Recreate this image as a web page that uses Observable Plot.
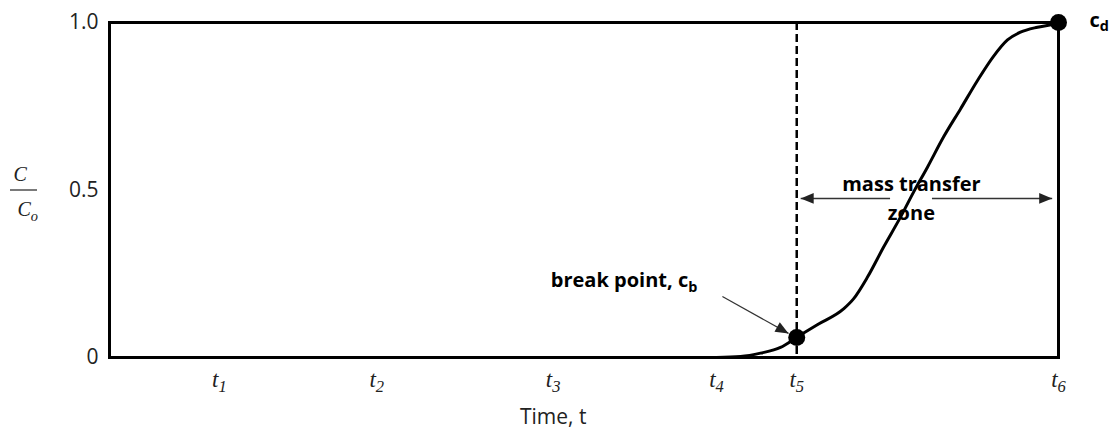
<!DOCTYPE html>
<html>
<head>
<meta charset="utf-8">
<script src="https://cdn.jsdelivr.net/npm/d3@7"></script>
<script src="https://cdn.jsdelivr.net/npm/@observablehq/plot@0.6"></script>
<style>
  body { margin: 0; background: #fff; }
  #chart svg { display: block; }
</style>
</head>
<body>
<div id="chart"></div>
<script>
// Breakthrough curve: effluent concentration ratio C/Co against time.
const curveTime  = [7.675, 7.98, 8.232, 8.485, 8.69, 8.95, 9.282, 9.408, 9.585, 9.787, 10.002, 10.166, 10.343, 10.546, 10.761, 10.976, 11.178, 11.355, 11.519, 11.734, 11.937, 12.0];
const curveRatio = [0, 0.003, 0.013, 0.030, 0.060, 0.098, 0.145, 0.175, 0.240, 0.329, 0.419, 0.493, 0.568, 0.658, 0.742, 0.827, 0.899, 0.948, 0.971, 0.986, 0.995, 1.0];

// Time ticks t1..t6 and concentration ticks
const tickTimes  = [1.39, 3.38, 5.61, 7.675, 8.69, 12];
const tickLabels = ["t_1", "t_2", "t_3", "t_4", "t_5", "t_6"];
const yTicks      = [0, 0.5, 1];
const yTickLabels = ["0", "0.5", "1.0"];

// Named points on the curve
const breakPoint   = {t: 8.69, ratio: 0.060};
const exhaustPoint = {t: 12, ratio: 1.0};

// Annotation texts
const breakText = "break point, c_b";
const exhaustText = "c_d";
const zoneText = "mass transfer\nzone";
const xTitle = "Time, t";
const yNumerator = "C";
const yDenominator = "C_o";

const width = 1112, height = 431;
const marginLeft = 109, marginRight = 54, marginTop = 22, marginBottom = 74;
const xDomain = [0, 12], yDomain = [0, 1];

const curve = curveTime.map((t, i) => ({t, ratio: curveRatio[i]}));

// Annotation geometry (in data units)
const breakLabelAt = {t: 5.58, ratio: 0.209};
const breakArrow = {t1: 7.75, r1: 0.182, t2: 8.586, r2: 0.072};
const zoneY = 0.475;
const zoneSegments = [{a: 8.74, b: 9.87}, {a: 10.40, b: 11.92}];
const zoneLabelAt = {t: 10.14, ratio: 0.411};
const fractionBar = {a: -1.252, b: -0.91, ratio: 0.5};

// pixel-space helpers to orient the arrowheads
const sx = Plot.scale({x: {domain: xDomain, range: [marginLeft, width - marginRight]}});
const sy = Plot.scale({y: {domain: yDomain, range: [height - marginBottom, marginTop]}});
const heading = (x1, y1, x2, y2) =>
  Math.atan2(sx.apply(x2) - sx.apply(x1), -(sy.apply(y2) - sy.apply(y1))) * 180 / Math.PI;

// filled arrowhead pointing up, tip at the origin
const arrowHead = {
  draw(context, size) {
    const r = Math.sqrt(size / Math.PI);
    context.moveTo(0, 0);
    context.lineTo(0.42 * r, r);
    context.lineTo(-0.42 * r, r);
    context.closePath();
  }
};

const heads = [
  {t: breakArrow.t2, ratio: breakArrow.r2, rot: heading(breakArrow.t1, breakArrow.r1, breakArrow.t2, breakArrow.r2)},
  {t: zoneSegments[0].a, ratio: zoneY, rot: -90},
  {t: zoneSegments[1].b, ratio: zoneY, rot: 90}
];

const bold = {fontFamily: "Open Sans", fontWeight: "bold", fontSize: 20, fill: "#000"};

const chart = Plot.plot({
  width, height, marginLeft, marginRight, marginTop, marginBottom,
  x: {domain: xDomain},
  y: {domain: yDomain},
  style: {fontFamily: "Open Sans", color: "#222", background: "#fff", overflow: "visible"},
  marks: [
    Plot.axisY(yTicks, {
      tickSize: 0, tickPadding: 11, label: null,
      tickFormat: d => yTickLabels[yTicks.indexOf(d)],
      fontFamily: "Open Sans", fontSize: 21
    }),
    Plot.axisX(tickTimes, {
      tickSize: 0, tickPadding: 13, label: null,
      tickFormat: d => tickLabels[tickTimes.indexOf(d)],
      fontFamily: "Liberation Serif", fontStyle: "italic", fontSize: 23
    }),
    Plot.text([{t: tickTimes[2], s: xTitle}], {
      x: "t", text: "s", frameAnchor: "bottom", dy: 66, lineAnchor: "bottom",
      fontFamily: "Open Sans", fontSize: 21, fill: "#222"
    }),
    // C / Co label in the left margin
    Plot.text([{ratio: 0.5, s: yNumerator}], {
      y: "ratio", text: "s", frameAnchor: "left", dx: -96, dy: -9.5, lineAnchor: "bottom",
      fontFamily: "Liberation Serif", fontStyle: "italic", fontSize: 20, fill: "#222"
    }),
    Plot.ruleY([fractionBar], {y: "ratio", x1: "a", x2: "b", stroke: "#222", strokeWidth: 1.2}),
    Plot.text([{ratio: 0.5, s: yDenominator}], {
      y: "ratio", text: "s", frameAnchor: "left", dx: -92, dy: 26, lineAnchor: "bottom",
      fontFamily: "Liberation Serif", fontStyle: "italic", fontSize: 20, fill: "#222"
    }),
    Plot.frame({stroke: "#000", strokeWidth: 3}),
    Plot.ruleX([breakPoint], {x: "t", stroke: "#000", strokeWidth: 2.5, strokeDasharray: "8 4"}),
    // mass transfer zone double arrow
    Plot.link(zoneSegments, {x1: "a", x2: "b", y1: () => zoneY, y2: () => zoneY, stroke: "#333", strokeWidth: 1.5}),
    Plot.text([{...zoneLabelAt, s: zoneText}], {
      x: "t", y: "ratio", text: "s", textAnchor: "middle", lineAnchor: "bottom", lineHeight: 1.45, ...bold
    }),
    // break point annotation
    Plot.link([breakArrow], {x1: "t1", y1: "r1", x2: "t2", y2: "r2", stroke: "#333", strokeWidth: 1.2}),
    Plot.text([{...breakLabelAt, s: breakText}], {
      x: "t", y: "ratio", text: "s", textAnchor: "start", lineAnchor: "bottom", ...bold
    }),
    Plot.text([{...exhaustPoint, s: exhaustText}], {
      x: "t", y: "ratio", text: "s", textAnchor: "start", lineAnchor: "bottom", dx: 31, dy: 4, ...bold
    }),
    // breakthrough curve
    Plot.line(curve, {x: "t", y: "ratio", curve: "monotone-x", stroke: "#000", strokeWidth: 3, strokeLinecap: "round"}),
    Plot.dot([breakPoint, exhaustPoint], {x: "t", y: "ratio", r: 8.5, fill: "#000", stroke: "none"}),
    Plot.dot(heads, {x: "t", y: "ratio", rotate: "rot", symbol: arrowHead, r: 13, fill: "#222", stroke: "none"})
  ]
});

// Turn "x_y" strings into base text plus a lowered, smaller subscript.
d3.select(chart).selectAll("text").each(function () {
  if (this.children.length) return;
  const s = this.textContent;
  const k = s.indexOf("_");
  if (k < 0) return;
  this.textContent = s.slice(0, k);
  d3.select(this).append("tspan")
    .attr("dy", "0.32em")
    .attr("font-size", "0.72em")
    .text(s.slice(k + 1));
});

document.getElementById("chart").append(chart);
</script>
</body>
</html>
